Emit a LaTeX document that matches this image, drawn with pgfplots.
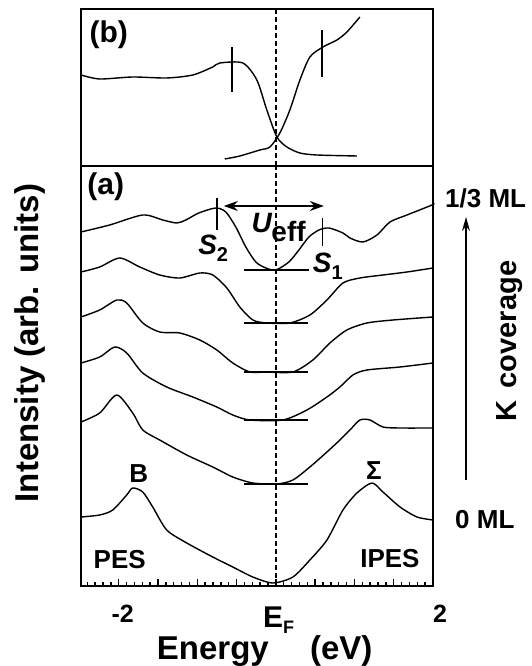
\documentclass[border=0pt]{standalone}
\usepackage{pgfplots}
\pgfplotsset{compat=1.18}
\usepackage{fontspec}
\setmainfont{Liberation Sans}
\setsansfont{Liberation Sans}
\usetikzlibrary{arrows.meta}
\newcommand{\fs}[1]{\fontsize{#1}{#1}\selectfont}

\begin{document}
\begin{tikzpicture}
\tikzset{every node/.append style={font=\bfseries, inner sep=0pt},
  spec/.style={black, solid, line width=1.4pt, mark=none, smooth, tension=0.45},
  seg/.style={black, solid, line width=1.4pt, mark=none}}
\useasboundingbox (-81pt,-80pt) rectangle (451pt,586pt);

% panel (a): spectra for increasing K coverage
\begin{axis}[
    name=a, at={(0,0)}, anchor=south west,
    width=352pt, height=420pt, scale only axis,
    xmin=-2.48, xmax=2, ymin=0, ymax=420,
    axis line style={line width=1.6pt},
    ytick=\empty,
    xtick={-2.4,-2.3,-2.2,-2.1,-1.9,-1.8,-1.7,-1.6,-1.4,-1.3,-1.2,-1.1,-0.9,-0.8,-0.7,-0.6,-0.4,-0.3,-0.2,-0.1,0.1,0.2,0.3,0.4,0.6,0.7,0.8,0.9,1.1,1.2,1.3,1.4,1.6,1.7,1.8,1.9},
    xticklabels={},
    extra x ticks={-2,-1.5,-1,-0.5,0,0.5,1,1.5,2},
    extra x tick labels={},
    extra x tick style={major tick length=6.5pt},
    tick align=inside, xtick pos=left,
    major tick length=3.5pt,
    tick style={line width=1.3pt, black},
    clip=false,
  ]
  % 1/3 ML
  \addplot[spec] coordinates {(-2.48,354) (-2.115,361) (-1.694,371) (-1.439,366) (-1.261,363) (-1.146,366) (-0.981,373) (-0.764,378) (-0.637,374) (-0.510,359) (-0.382,339) (-0.255,324) (-0.127,318) (0,316) (0.166,324) (0.293,336) (0.420,349) (0.548,356) (0.675,358) (0.854,353) (0.943,348) (1.108,344) (1.287,351) (1.452,364) (1.669,371) (1.987,381) (2.0,382)};
  \addplot[spec] coordinates {(-2.48,314) (-2.242,319) (-1.987,328) (-1.732,319) (-1.478,311) (-1.223,308) (-0.968,313) (-0.803,311) (-0.624,298) (-0.459,279) (-0.293,266) (-0.115,263) (0.178,263) (0.433,271) (0.650,286) (0.854,303) (1.070,308) (1.363,311) (1.669,314) (2.0,318)};
  \addplot[spec] coordinates {(-2.48,269) (-2.242,276) (-2.025,286) (-1.898,283) (-1.694,263) (-1.478,254) (-1.223,253) (-0.968,246) (-0.752,236) (-0.548,223) (-0.331,214) (-0.115,214) (0.217,214) (0.471,226) (0.688,243) (0.904,256) (1.159,263) (1.490,266) (2.0,269)};
  \addplot[spec] coordinates {(-2.48,223) (-2.242,229) (-2.051,239) (-1.898,233) (-1.694,213) (-1.389,199) (-1.057,189) (-0.752,179) (-0.548,171) (-0.331,166) (0.089,166) (0.395,176) (0.650,189) (0.815,199) (0.981,211) (1.159,216) (1.580,219) (2.0,223)};
  \addplot[spec] coordinates {(-2.48,164) (-2.242,173) (-2.025,191) (-1.822,173) (-1.694,156) (-1.478,146) (-1.134,131) (-0.803,119) (-0.548,109) (-0.293,103) (0.013,102) (0.217,106) (0.433,119) (0.650,134) (0.815,146) (0.943,156) (1.070,166) (1.197,166) (1.363,159) (1.580,158) (2.0,158)};
  % 0 ML
  \addplot[spec] coordinates {(-2.48,69) (-2.242,71) (-2.076,76) (-1.898,91) (-1.822,98) (-1.694,94) (-1.567,79) (-1.389,56) (-1.134,43) (-0.803,29) (-0.548,19) (-0.293,9) (-0.038,3) (0.217,9) (0.433,26) (0.650,46) (0.854,76) (1.032,93) (1.223,103) (1.363,94) (1.580,79) (1.796,69) (2.0,66)};
  % baselines at E_F
  \addplot[seg] coordinates {(-0.41,316) (0.42,316)};
  \addplot[seg] coordinates {(-0.40,263) (0.41,263)};
  \addplot[seg] coordinates {(-0.40,214) (0.41,214)};
  \addplot[seg] coordinates {(-0.40,166) (0.41,166)};
  \addplot[seg] coordinates {(-0.40,102) (0.41,102)};
  % S2 / S1 markers
  \addplot[seg] coordinates {(-0.75,388) (-0.75,356)};
  \addplot[seg] coordinates {(0.59,368) (0.59,340)};
  % E_F
  \addplot[line width=1.6pt, dash pattern=on 5pt off 3pt] coordinates {(0,0) (0,420)};
  % U_eff arrow
  \addplot[line width=1.7pt, {Stealth[length=14pt,width=10pt]}-{Stealth[length=14pt,width=10pt]}] coordinates {(-0.662,380) (0.611,380)};

  \node at (axis cs:-2.166,399) {\fs{30}(a)};
  \node[anchor=base west] at (axis cs:-0.31,353) {\fs{28}\textit{U}\kern-1pt\raisebox{-9pt}{eff}};
  \node[anchor=base west] at (axis cs:-0.99,331) {\fs{28}\textit{S}\raisebox{-7pt}{\fs{20}2}};
  \node[anchor=base west] at (axis cs:0.47,313) {\fs{28}\textit{S}\raisebox{-7pt}{\fs{20}1}};
  \node at (axis cs:-1.745,112) {\fs{26}B};
  \node at (axis cs:1.248,115) {\fs{26}Σ};
  \node at (axis cs:-1.987,26) {\fs{26}PES};
  \node at (axis cs:1.452,27) {\fs{26}IPES};

  % tick labels and axis labels
  \node at (axis cs:-1.949,-27.5) {\fs{25}-2};
  \node[anchor=base west] at (axis cs:-0.166,-41) {\fs{30}E\raisebox{-6pt}{\fs{18}F}};
  \node at (axis cs:2.089,-27.5) {\fs{25}2};
  \node[anchor=base west] at (axis cs:-1.516,-73) {\fs{33}Energy};
  \node[anchor=base west] at (axis cs:0.433,-73) {\fs{33}(eV)};
  \node[rotate=90] at (axis cs:-3.134,243) {\fs{33}Intensity (arb. units)};

  % coverage annotation
  \node[anchor=west] at (axis cs:2.153,388) {\fs{26}1/3 ML};
  \node[anchor=west] at (axis cs:2.28,66) {\fs{26}0 ML};
  \node[rotate=90] at (axis cs:2.975,245) {\fs{29}K\hspace{4pt} coverage};
  \addplot[line width=1.3pt, -{Stealth[length=14pt,width=8pt]}] coordinates {(2.42,106) (2.42,369)};
\end{axis}

% panel (b)
\begin{axis}[
    at={(0,420pt)}, anchor=south west,
    width=352pt, height=157pt, scale only axis,
    xmin=-2.48, xmax=2, ymin=0, ymax=157,
    axis line style={line width=1.6pt},
    xtick=\empty, ytick=\empty,
    clip=false,
  ]
  \addplot[spec] coordinates {(-2.48,91) (-2.242,87) (-1.822,89) (-1.389,88) (-1.057,91) (-0.803,99) (-0.713,103) (-0.420,103) (-0.242,86) (-0.115,56) (0.013,29) (0.140,19) (0.306,13) (0.522,11) (1.032,10)};
  \addplot[spec] coordinates {(-0.650,7) (-0.459,10) (-0.204,16) (-0.076,19) (0.051,33) (0.178,56) (0.306,86) (0.433,109) (0.599,119) (0.777,126) (0.904,134) (1.070,149)};
  \addplot[seg] coordinates {(-0.56,74) (-0.56,119)};
  \addplot[seg] coordinates {(0.586,89) (0.586,136)};
  \addplot[line width=1.6pt, dash pattern=on 5pt off 3pt] coordinates {(0,0) (0,157)};
  \node at (axis cs:-2.127,131) {\fs{30}(b)};
\end{axis}
\end{tikzpicture}
\end{document}
